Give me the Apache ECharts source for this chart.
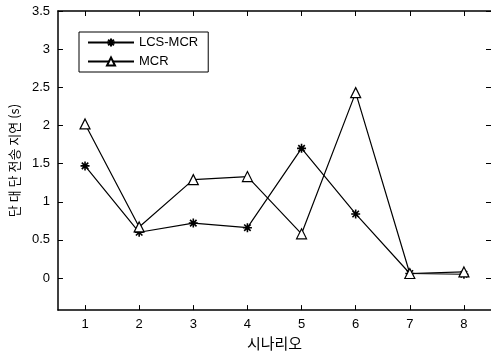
<!DOCTYPE html>
<html><head><meta charset="utf-8">
<script src="https://cdn.jsdelivr.net/npm/echarts@6/dist/echarts.min.js"></script>
<style>html,body{margin:0;padding:0;background:#fff}#c{width:491px;height:356px}</style>
</head><body><div id="c"></div>
<script>
const scenarios = [1, 2, 3, 4, 5, 6, 7, 8];
const lcsMcr = [1.47, 0.60, 0.72, 0.66, 1.70, 0.84, 0.06, 0.05];
const mcr = [2.02, 0.67, 1.29, 1.33, 0.58, 2.43, 0.06, 0.08];
const yTicks = [0, 0.5, 1, 1.5, 2, 2.5, 3, 3.5];
const seriesNames = ['LCS-MCR', 'MCR'];

const star = 'path://M0,-5L0,5M-5,0L5,0M-3.6,-3.6L3.6,3.6M-3.6,3.6L3.6,-3.6';
const chart = echarts.init(document.getElementById('c'));
const axisFont = {fontFamily: 'Liberation Sans, Arial, sans-serif', fontSize: 13, color: '#000'};
chart.setOption({
  animation: false,
  grid: {left: 55, top: 11, width: 440, height: 312},
  legend: {
    left: 79, top: 32, orient: 'vertical',
    borderColor: '#000', borderWidth: 1, padding: [4, 10, 4, 8],
    itemWidth: 46, itemHeight: 10, itemGap: 6,
    textStyle: {fontFamily: 'Liberation Sans, Arial, sans-serif', fontSize: 13, color: '#000'},
    data: seriesNames
  },
  xAxis: [{
    type: 'value', min: 0.5, max: 8.5,
    axisLine: {show: true, onZero: false, lineStyle: {color: '#000', width: 1.5}},
    axisTick: {show: true, inside: true, length: 5, customValues: scenarios, lineStyle: {color: '#000'}},
    axisLabel: {customValues: scenarios, margin: 8, ...axisFont},
    splitLine: {show: false},
    name: '시나리오', nameLocation: 'middle', nameGap: 17,
    nameTextStyle: {fontFamily: 'Noto Sans CJK KR', fontSize: 15, color: '#000'}
  }, {
    type: 'value', min: 0.5, max: 8.5, position: 'top',
    axisLine: {show: true, onZero: false, lineStyle: {color: '#000', width: 1.5}},
    axisTick: {show: true, inside: true, length: 5, customValues: scenarios, lineStyle: {color: '#000'}},
    axisLabel: {show: false}, splitLine: {show: false}
  }],
  yAxis: [{
    type: 'value', min: -0.42, max: 3.5,
    axisLine: {show: true, onZero: false, lineStyle: {color: '#000', width: 1.5}},
    axisTick: {show: true, inside: true, length: 5, customValues: yTicks, lineStyle: {color: '#000'}},
    axisLabel: {customValues: yTicks, margin: 8, ...axisFont},
    splitLine: {show: false},
    name: '단 대 단 전송 지연 (s)', nameLocation: 'middle', nameGap: 35,
    nameTextStyle: {fontFamily: 'Noto Sans CJK KR', fontSize: 13, color: '#000'}
  }, {
    type: 'value', min: -0.42, max: 3.5, position: 'right',
    axisLine: {show: false},
    axisTick: {show: true, inside: true, length: 5, customValues: yTicks, lineStyle: {color: '#000'}},
    axisLabel: {show: false}, splitLine: {show: false}
  }],
  series: [{
    name: seriesNames[0], type: 'line',
    data: scenarios.map((x, i) => [x, lcsMcr[i]]),
    symbol: star, symbolSize: 9,
    lineStyle: {color: '#000', width: 1.2},
    itemStyle: {color: '#000', borderColor: '#000', borderWidth: 1.6}
  }, {
    name: seriesNames[1], type: 'line',
    data: scenarios.map((x, i) => [x, mcr[i]]),
    symbol: 'triangle', symbolSize: 10,
    lineStyle: {color: '#000', width: 1.2},
    itemStyle: {color: '#fff', borderColor: '#000', borderWidth: 1.2}
  }]
});
</script></body></html>
